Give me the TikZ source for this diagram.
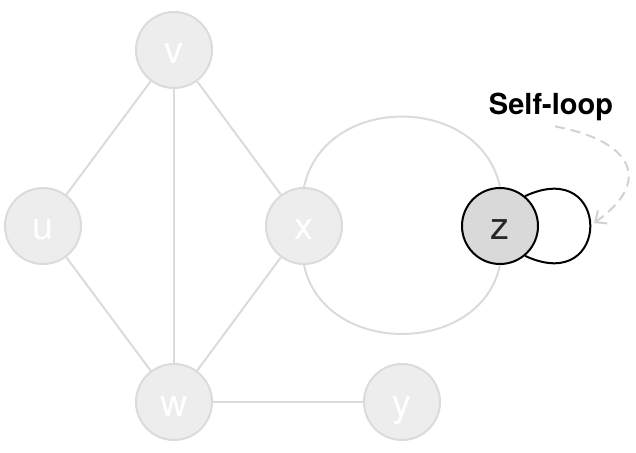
\documentclass[tikz,border=0pt]{standalone}
\usepackage{fontspec}
\setmainfont{TeX Gyre Heros}
\usepackage{tikz}
\usetikzlibrary{arrows.meta}

\begin{document}
\begin{tikzpicture}
[x=1pt,y=1pt,
vert/.style={circle,minimum size=76pt,inner sep=0pt,fill=gray!14,draw=gray!28,line width=2pt,
	text=white,font=\fontsize{38}{40}\selectfont,text height=28pt,text depth=0pt},
chosen/.style={vert,fill=gray!30,draw=black,line width=2pt,text=black!85},
edge/.style={draw=gray!28,line width=2pt},
selfloop/.style={draw=black,line width=2pt},
hint/.style={draw=gray!35,line width=2pt,dash pattern=on 10pt off 6pt,-{Straight Barb[length=9pt,width=16pt]}},
caption/.style={font=\bfseries\fontsize{29}{32}\selectfont}]

\useasboundingbox (0,0) rectangle (636,452);

% vertices
\node[vert] (v) at (174,402) {v};
\node[vert] (u) at (43,226) {u};
\node[vert] (x) at (304,226) {x};
\node[vert] (w) at (174,50) {w};
\node[vert] (y) at (402,50) {y};
\node[chosen] (z) at (500,226) {z};

% edges
\draw[edge] (u) -- (v);
\draw[edge] (v) -- (x);
\draw[edge] (v) -- (w);
\draw[edge] (u) -- (w);
\draw[edge] (x) -- (w);
\draw[edge] (w) -- (y);
\draw[edge] (x.north) .. controls +(78:96pt) and +(102:96pt) .. (z.north);
\draw[edge] (x.south) .. controls +(-78:94pt) and +(-102:94pt) .. (z.south);

% the self-loop
\draw[selfloop] (z.50) .. controls +(25:96pt) and +(-25:96pt) .. (z.-50);

% label
\node[caption] (lbl) at (551,345) {Self-loop};
\coordinate (tip) at (594,229);
\draw[hint] ([xshift=4pt,yshift=-2pt]lbl.south) .. controls (630,312) and (655,272) .. (tip);
\end{tikzpicture}
\end{document}
